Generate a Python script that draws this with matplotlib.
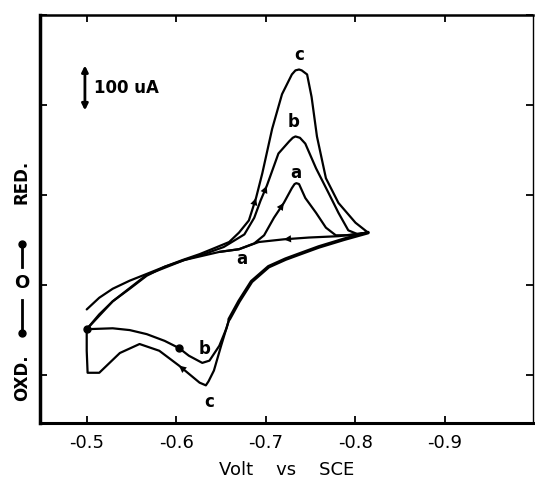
import matplotlib
matplotlib.use("Agg")
import matplotlib.pyplot as plt

# potencial (V vs SCE) y corriente (uA)
c_ida_v = [-0.500, -0.514, -0.529, -0.548, -0.567, -0.587, -0.607, -0.626, -0.642, -0.659,
           -0.670, -0.681, -0.689, -0.696, -0.707, -0.718, -0.729, -0.733, -0.737, -0.740,
           -0.746, -0.751, -0.757, -0.767, -0.781, -0.800, -0.814]
c_ida_i = [-55, -29, -9, 9, 24, 40, 55, 68, 81, 95,
           116, 143, 193, 248, 347, 424, 468, 477, 479, 477,
           468, 418, 330, 237, 182, 138, 116]

vuelta_v = [-0.814, -0.787, -0.759, -0.737, -0.722, -0.703, -0.684, -0.670, -0.659]
vuelta_i = [116, 101, 84, 68, 57, 40, 7, -37, -77]

c_vuelta_v = [-0.659, -0.650, -0.642, -0.636, -0.633, -0.626, -0.603, -0.581, -0.559, -0.537,
              -0.514, -0.501, -0.500, -0.500]
c_vuelta_i = [-77, -136, -191, -215, -224, -218, -180, -147, -132, -152, -196, -196, -147, -99]

b_vuelta_v = [-0.659, -0.656, -0.648, -0.637, -0.629, -0.614, -0.603, -0.587, -0.567,
              -0.548, -0.529, -0.500]
b_vuelta_i = [-77, -97, -136, -169, -174, -158, -141, -125, -110, -101, -97, -99]

b_ida_v = [-0.500, -0.514, -0.529, -0.548, -0.567, -0.587, -0.609, -0.631, -0.653, -0.676,
           -0.687, -0.694, -0.701, -0.714, -0.726, -0.730, -0.733, -0.738, -0.744, -0.756,
           -0.770, -0.781, -0.792, -0.803, -0.814]
b_ida_i = [-99, -66, -37, -9, 20, 40, 55, 68, 84, 112,
           149, 187, 220, 292, 319, 327, 330, 327, 314, 259,
           204, 160, 121, 112, 116]

a_ida_v = [-0.500, -0.529, -0.567, -0.609, -0.648, -0.670, -0.687, -0.698, -0.709, -0.720,
           -0.729, -0.732, -0.734, -0.737, -0.744, -0.756, -0.767, -0.778, -0.792, -0.814]
a_ida_i = [-99, -37, 22, 55, 73, 79, 92, 110, 149, 182,
           215, 224, 226, 224, 193, 160, 127, 110, 110, 116]

a_vuelta_v = [-0.814, -0.781, -0.748, -0.720, -0.692, -0.670, -0.648]
a_vuelta_i = [116, 108, 105, 101, 95, 79, 73]

xticks = [-0.5, -0.6, -0.7, -0.8, -0.9]
xtick_labels = ["-0.5", "-0.6", "-0.7", "-0.8", "-0.9"]
yticks = [-200, 0, 200, 400, 600]


def flecha(ax, xs, ys, k):
    # punta de flecha sobre la curva en el punto k, en el sentido del barrido
    ax.annotate("", xy=(xs[k], ys[k]), xytext=(xs[k - 1], ys[k - 1]),
                arrowprops=dict(arrowstyle="-|>", color="black", lw=0,
                                mutation_scale=13, shrinkA=0, shrinkB=0))


fig = plt.figure(figsize=(5.35, 4.88), dpi=100)
ax = fig.add_axes([0.075, 0.133, 0.921, 0.836])

estilo = dict(color="black", lw=1.6, solid_capstyle="round", solid_joinstyle="round")
ax.plot(c_ida_v, c_ida_i, **estilo)
ax.plot(vuelta_v, vuelta_i, color="black", lw=2.6, solid_capstyle="round",
        solid_joinstyle="round")
ax.plot(c_vuelta_v, c_vuelta_i, **estilo)
ax.plot(b_vuelta_v, b_vuelta_i, **estilo)
ax.plot(b_ida_v, b_ida_i, **estilo)
ax.plot(a_ida_v, a_ida_i, **estilo)
ax.plot(a_vuelta_v, a_vuelta_i, **estilo)

flecha(ax, c_ida_v, c_ida_i, 12)
flecha(ax, b_ida_v, b_ida_i, 12)
flecha(ax, a_ida_v, a_ida_i, 9)
flecha(ax, a_vuelta_v, a_vuelta_i, 3)
flecha(ax, c_vuelta_v, c_vuelta_i, 6)
ax.plot(b_vuelta_v[6], b_vuelta_i[6], "o", color="black", ms=5)
ax.plot(b_ida_v[0], b_ida_i[0], "o", color="black", ms=5)

kw = dict(fontsize=12, fontweight="bold", ha="center", va="center")
ax.text(-0.737, 512, "c", **kw)
ax.text(-0.731, 363, "b", **kw)
ax.text(-0.733, 248, "a", **kw)
ax.text(-0.673, 57, "a", **kw)
ax.text(-0.631, -143, "b", **kw)
ax.text(-0.637, -262, "c", **kw)

# barra de escala
ax.annotate("", xy=(-0.498, 488), xytext=(-0.498, 388),
            arrowprops=dict(arrowstyle="<|-|>", color="black", lw=2,
                            mutation_scale=9, shrinkA=0, shrinkB=0))
ax.text(-0.508, 438, "100 uA", fontsize=12, fontweight="bold", ha="left", va="center")

ax.set_xlim(-0.448, -0.998)
ax.set_ylim(-308, 589)
ax.set_xticks(xticks)
ax.set_xticklabels(xtick_labels, fontsize=13)
ax.set_yticks(yticks)
ax.set_yticklabels([])
ax.tick_params(direction="in", length=5, width=1.3, top=True, right=True, pad=8)
ax.spines["left"].set_linewidth(2.5)
ax.spines["bottom"].set_linewidth(2.2)
ax.spines["top"].set_linewidth(1.8)
ax.spines["right"].set_linewidth(1.0)
ax.set_xlabel("Volt    vs    SCE", fontsize=13, labelpad=6)

# etiquetas del eje y
fig.text(22 / 535, 1 - 182 / 488, "RED.", rotation=90, fontsize=12, fontweight="bold",
         ha="center", va="center")
fig.text(22 / 535, 1 - 283 / 488, "O", fontsize=13, fontweight="bold", ha="center", va="center")
fig.text(22 / 535, 1 - 378 / 488, "OXD.", rotation=90, fontsize=12, fontweight="bold",
         ha="center", va="center")
fig.add_artist(plt.Line2D([22 / 535, 22 / 535], [1 - 267 / 488, 1 - 244 / 488], color="black", lw=2))
fig.add_artist(plt.Line2D([22 / 535], [1 - 244 / 488], marker="o", color="black", ms=5))
fig.add_artist(plt.Line2D([22 / 535, 22 / 535], [1 - 300 / 488, 1 - 333 / 488], color="black", lw=2))
fig.add_artist(plt.Line2D([22 / 535], [1 - 333 / 488], marker="o", color="black", ms=5))

fig.savefig("out.png", dpi=100)
